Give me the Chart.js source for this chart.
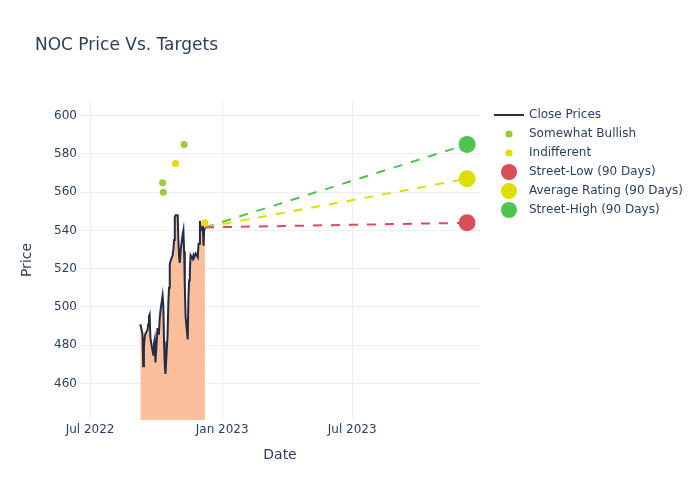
<!DOCTYPE html>
<html>
<head>
<meta charset="utf-8">
<title>NOC Price Vs. Targets</title>
<script src="https://cdn.jsdelivr.net/npm/chart.js@4.4.0/dist/chart.umd.min.js"></script>
<style>
  body { margin: 0; background: #fff; font-family: 'DejaVu Sans', sans-serif; color: #2a3f5f; }
  #wrap { position: relative; width: 700px; height: 500px; }
  #title { position: absolute; left: 35px; top: 34px; font-size: 17px; line-height: 20px; white-space: nowrap; }
  #legend { position: absolute; left: 494px; top: 105px; font-size: 12px; }
  .item { position: relative; height: 19px; width: 200px; }
  .sym { position: absolute; top: 50%; left: 15px; transform: translate(-50%, -50%); }
  .txt { position: absolute; left: 35px; top: 0; line-height: 19px; white-space: nowrap; }
</style>
</head>
<body>
<div id="wrap">
  <canvas id="chart" width="700" height="500"></canvas>
  <div id="title">NOC Price Vs. Targets</div>
  <div id="legend"></div>
</div>
<script>
// price history
const closeDates = [
  '2022-09-09', '2022-09-12', '2022-09-13', '2022-09-14', '2022-09-15', '2022-09-16',
  '2022-09-19', '2022-09-20', '2022-09-21', '2022-09-22', '2022-09-23', '2022-09-26',
  '2022-09-27', '2022-09-28', '2022-09-29', '2022-09-30', '2022-10-03', '2022-10-04',
  '2022-10-05', '2022-10-06', '2022-10-07', '2022-10-10', '2022-10-11', '2022-10-12',
  '2022-10-13', '2022-10-14', '2022-10-17', '2022-10-18', '2022-10-19', '2022-10-20',
  '2022-10-21', '2022-10-24', '2022-10-25', '2022-10-26', '2022-10-27', '2022-10-28',
  '2022-10-31', '2022-11-01', '2022-11-02', '2022-11-03', '2022-11-04', '2022-11-07',
  '2022-11-08', '2022-11-09', '2022-11-10', '2022-11-11', '2022-11-14', '2022-11-15',
  '2022-11-16', '2022-11-17', '2022-11-18', '2022-11-21', '2022-11-22', '2022-11-23',
  '2022-11-25', '2022-11-28', '2022-11-29', '2022-11-30', '2022-12-01', '2022-12-02',
  '2022-12-05', '2022-12-06', '2022-12-07', '2022-12-08'
];
const closeValues = [
  491, 486, 469, 479, 484, 486,
  488, 491, 495, 496, 484, 477,
  475, 481, 483, 471, 489, 486,
  487, 494, 498, 506, 501, 482,
  470, 465, 486, 502, 510, 522,
  524, 527, 530, 535, 547, 548,
  548, 535, 526, 523, 529, 538,
  540, 529, 510, 495, 483, 505,
  514, 519, 527, 525, 527, 526,
  528, 526, 533, 533, 545, 540,
  542, 532, 541, 541.6
];

// analyst ratings
const bullishDates = ['2022-10-10', '2022-10-11', '2022-11-09'];
const bullishValues = [565, 560, 585];
const indifferentDates = ['2022-10-28', '2022-12-08'];
const indifferentValues = [575, 544];

// 90 day targets, one year out
const targetDate = '2023-12-08';
const targetLabels = ['Street-Low (90 Days)', 'Average Rating (90 Days)', 'Street-High (90 Days)'];
const targetValues = [544, 567, 585];

// axes
const xTickDates = ['2022-07-01', '2023-01-01', '2023-07-01'];
const xTickLabels = ['Jul 2022', 'Jan 2023', 'Jul 2023'];
const yTicks = [460, 480, 500, 520, 540, 560, 580, 600];

const ts = s => Date.parse(s + 'T00:00:00Z');
const pts = (dates, vals) => dates.map((d, i) => ({ x: ts(d), y: vals[i] }));

const txtColor = '#2a3f5f';
const gridColor = '#ebf0f8';
const fontFam = "'DejaVu Sans', sans-serif";
const targetColors = ['rgb(217,78,88)', 'rgb(222,222,0)', 'rgb(80,196,80)'];

const lastDate = closeDates[closeDates.length - 1];
const lastClose = closeValues[closeValues.length - 1];

const datasets = [
  {
    label: 'Close Prices',
    data: pts(closeDates, closeValues),
    borderColor: 'rgb(36,44,70)',
    borderWidth: 2,
    backgroundColor: 'rgb(251,191,155)',
    fill: 'start',
    pointRadius: 0,
    tension: 0,
    order: 5
  },
  {
    label: 'Somewhat Bullish',
    type: 'scatter',
    data: pts(bullishDates, bullishValues),
    backgroundColor: 'rgb(154,205,50)',
    borderWidth: 0,
    pointRadius: 3.5,
    order: 2
  },
  {
    label: 'Indifferent',
    type: 'scatter',
    data: pts(indifferentDates, indifferentValues),
    backgroundColor: 'rgb(222,222,0)',
    borderWidth: 0,
    pointRadius: 3.5,
    order: 2
  }
];

targetValues.forEach((v, i) => {
  // dashed line from last close to the target
  datasets.push({
    label: targetLabels[i] + ' line',
    data: [{ x: ts(lastDate), y: lastClose }, { x: ts(targetDate), y: v }],
    borderColor: targetColors[i],
    borderWidth: 2,
    borderDash: [9, 9],
    pointRadius: 0,
    fill: false,
    order: 4
  });
  datasets.push({
    label: targetLabels[i],
    type: 'scatter',
    data: [{ x: ts(targetDate), y: v }],
    backgroundColor: targetColors[i],
    borderWidth: 0,
    pointRadius: 8.5,
    order: 1
  });
});

new Chart(document.getElementById('chart').getContext('2d'), {
  type: 'line',
  data: { datasets: datasets },
  options: {
    responsive: false,
    animation: false,
    layout: { padding: { left: 0, right: 220, top: 100, bottom: 0 } },
    plugins: {
      legend: { display: false },
      tooltip: { enabled: false }
    },
    scales: {
      x: {
        type: 'linear',
        min: ts('2022-06-17'),
        max: ts('2023-12-26'),
        afterBuildTicks: s => { s.ticks = xTickDates.map(d => ({ value: ts(d) })); },
        afterFit: s => { s.height = 80; },
        ticks: {
          callback: (v, i) => xTickLabels[i],
          color: txtColor,
          font: { family: fontFam, size: 12 },
          padding: 3,
          maxRotation: 0,
          autoSkip: false
        },
        grid: { color: gridColor, drawTicks: false },
        border: { display: false },
        title: {
          display: true,
          text: 'Date',
          color: txtColor,
          font: { family: fontFam, size: 14 },
          padding: { top: 0, bottom: 36 }
        }
      },
      y: {
        min: 440.9,
        max: 608.2,
        afterBuildTicks: s => { s.ticks = yTicks.map(v => ({ value: v })); },
        afterFit: s => { s.width = 80; },
        ticks: {
          color: txtColor,
          font: { family: fontFam, size: 12 },
          padding: 3
        },
        grid: { color: gridColor, drawTicks: false },
        border: { display: false },
        title: {
          display: true,
          text: 'Price',
          color: txtColor,
          font: { family: fontFam, size: 14 },
          padding: { top: 19, bottom: 0 }
        }
      }
    }
  }
});

// legend, plotly style
const legendItems = [
  { text: 'Close Prices', kind: 'line', color: 'rgb(36,44,70)' },
  { text: 'Somewhat Bullish', kind: 'dot', size: 7, color: 'rgb(154,205,50)' },
  { text: 'Indifferent', kind: 'dot', size: 7, color: 'rgb(222,222,0)' }
];
targetLabels.forEach((t, i) => legendItems.push({ text: t, kind: 'dot', size: 16, color: targetColors[i] }));

const legend = document.getElementById('legend');
legendItems.forEach(it => {
  const row = document.createElement('div');
  row.className = 'item';
  const sym = document.createElement('div');
  sym.className = 'sym';
  if (it.kind === 'line') {
    sym.style.width = '30px';
    sym.style.height = '2px';
  } else {
    sym.style.width = it.size + 'px';
    sym.style.height = it.size + 'px';
    sym.style.borderRadius = '50%';
  }
  sym.style.background = it.color;
  const txt = document.createElement('div');
  txt.className = 'txt';
  txt.textContent = it.text;
  row.appendChild(sym);
  row.appendChild(txt);
  legend.appendChild(row);
});
</script>
</body>
</html>
